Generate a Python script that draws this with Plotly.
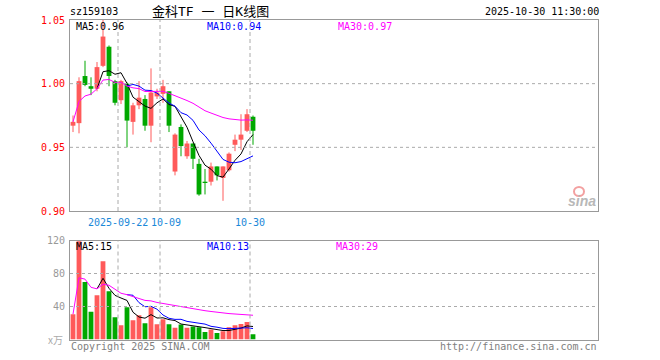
import plotly.graph_objects as go
import pandas as pd

# ---------------- data ----------------
dates = ["2025-09-10", "2025-09-11", "2025-09-12", "2025-09-15", "2025-09-16", "2025-09-17",
         "2025-09-18", "2025-09-19", "2025-09-22", "2025-09-23", "2025-09-24", "2025-09-25",
         "2025-09-26", "2025-09-29", "2025-09-30", "2025-10-09", "2025-10-10", "2025-10-13",
         "2025-10-14", "2025-10-15", "2025-10-16", "2025-10-17", "2025-10-20", "2025-10-21",
         "2025-10-22", "2025-10-23", "2025-10-24", "2025-10-27", "2025-10-28", "2025-10-29",
         "2025-10-30"]
opens = [0.967, 0.969, 1.006, 0.998, 0.996, 1.014, 1.029, 1.002, 0.987, 1.000, 0.970, 0.983,
         0.988, 0.967, 0.990, 0.992, 0.994, 0.931, 0.966, 0.943, 0.953, 0.937, 0.923, 0.923,
         0.935, 0.926, 0.932, 0.952, 0.956, 0.963, 0.974]
highs = [0.975, 1.005, 1.018, 1.005, 1.017, 1.050, 1.030, 1.003, 1.003, 1.001, 0.985, 1.002,
         0.991, 1.012, 0.996, 1.003, 0.994, 0.961, 0.968, 0.955, 0.953, 0.941, 0.933, 0.938,
         0.935, 0.935, 0.946, 0.960, 0.976, 0.980, 0.975]
lows = [0.962, 0.961, 0.998, 0.991, 0.994, 1.013, 0.998, 0.983, 0.984, 0.950, 0.960, 0.980,
        0.963, 0.954, 0.988, 0.985, 0.962, 0.928, 0.943, 0.941, 0.933, 0.912, 0.913, 0.920,
        0.924, 0.908, 0.931, 0.947, 0.948, 0.962, 0.952]
closes = [0.970, 1.002, 0.999, 0.996, 1.013, 1.037, 1.006, 0.985, 1.002, 0.971, 0.983, 0.989,
          0.967, 0.993, 0.993, 0.998, 0.967, 0.960, 0.951, 0.953, 0.941, 0.913, 0.922, 0.935,
          0.928, 0.935, 0.945, 0.956, 0.960, 0.976, 0.963]
volumes = [30.7, 119, 69.8, 33.5, 53.7, 94.9, 58.5, 27.0, 17.3, 39.1, 23.4, 29.5, 19.8, 39.1,
           18.5, 24.6, 18.5, 14.1, 18.1, 14.1, 15.7, 14.9, 9.2, 12.1, 8.0, 10.1, 14.9, 17.3,
           18.9, 21.3, 6.4]

date_ticks = ["2025-09-22", "2025-10-09", "2025-10-30"]
date_tick_text = ["2025-09-22", "10-09", "10-30"]
price_ticks = [1.05, 1.00, 0.95, 0.90]
price_tick_text = ["1.05", "1.00", "0.95", "0.90"]
vol_ticks = [120, 80, 40]
vol_tick_text = ["120", "80", "40"]

title_code = "sz159103"
title_name = "金科TF 一 日K线图"
title_time = "2025-10-30 11:30:00"
ma_price_text = ["MA5:0.96", "MA10:0.94", "MA30:0.97"]
ma_vol_text = ["MA5:15", "MA10:13", "MA30:29"]
footer_left = "Copyright 2025 SINA.COM"
footer_right = "http://finance.sina.com.cn"
vol_unit = "x万"

# ---------------- style ----------------
W, H = 660, 360
LEFT, RIGHT = 70, 598
P_TOP, P_BOT = 20, 211
V_TOP, V_BOT = 240.5, 339.5
N_SLOTS = 88
RED = "#ff5a5a"
GREEN = "#00a800"
MA_COLORS = ["#000000", "#0000ff", "#ff00ff"]
MONO = "DejaVu Sans Mono"
BORDER = "#999999"
DATE_SHIFTS = [0, 6, 0]


def px(x):
    return x / W


def py(y):
    return 1 - y / H


df = pd.DataFrame({"date": dates, "open": opens, "high": highs, "low": lows,
                   "close": closes, "vol": volumes})
df["i"] = range(len(df))
df["up"] = df["close"] >= df["open"]
df["base"] = df[["open", "close"]].min(axis=1)
df["body"] = (df["close"] - df["open"]).abs().clip(lower=0.0007)

ma_specs = [(5, 5), (10, 10), (30, 1)]
for n, mp in ma_specs:
    df[f"ma{n}"] = df["close"].rolling(n, min_periods=mp).mean()
    df[f"vma{n}"] = df["vol"].rolling(n, min_periods=mp).mean()

fig = go.Figure()

# wicks + bodies
for up, col in [(True, RED), (False, GREEN)]:
    sub = df[df["up"] == up]
    wx, wy = [], []
    for _, r in sub.iterrows():
        wx += [r["i"], r["i"], None]
        wy += [r["low"], r["high"], None]
    fig.add_trace(go.Scatter(x=wx, y=wy, mode="lines", line=dict(color=col, width=1),
                             xaxis="x", yaxis="y", hoverinfo="skip", showlegend=False))
    fig.add_trace(go.Bar(x=sub["i"], y=sub["body"], base=sub["base"], width=0.8,
                         marker=dict(color=col, line=dict(width=0)),
                         xaxis="x", yaxis="y", showlegend=False))
    fig.add_trace(go.Bar(x=sub["i"], y=sub["vol"], width=0.8,
                         marker=dict(color=col, line=dict(width=0)),
                         xaxis="x2", yaxis="y2", showlegend=False))

# moving averages
for (n, _), col in zip(ma_specs, MA_COLORS):
    fig.add_trace(go.Scatter(x=df["i"], y=df[f"ma{n}"], mode="lines",
                             line=dict(color=col, width=1), xaxis="x", yaxis="y",
                             showlegend=False))
    fig.add_trace(go.Scatter(x=df["i"], y=df[f"vma{n}"], mode="lines",
                             line=dict(color=col, width=1), xaxis="x2", yaxis="y2",
                             showlegend=False))

shapes = []
# dotted horizontal gridlines
for v in [1.00, 0.95]:
    shapes.append(dict(type="line", xref="paper", yref="y", x0=px(LEFT), x1=px(RIGHT),
                       y0=v, y1=v, line=dict(color="#aaaaaa", width=1, dash="dot")))
for v in [80, 40]:
    shapes.append(dict(type="line", xref="paper", yref="y2", x0=px(LEFT), x1=px(RIGHT),
                       y0=v, y1=v, line=dict(color="#aaaaaa", width=1, dash="dot")))
# dashed verticals at date ticks (left edge of day slot)
for d in date_ticks:
    idx = dates.index(d) - 0.5
    for (t, b) in [(P_TOP, P_BOT), (V_TOP, V_BOT)]:
        shapes.append(dict(type="line", xref="x", yref="paper", x0=idx, x1=idx,
                           y0=py(b), y1=py(t),
                           line=dict(color="#aaaaaa", width=1, dash="4px,3px")))
# sina logo eye
shapes.append(dict(type="circle", xref="paper", yref="paper", x0=px(574), x1=px(584),
                   y0=py(196), y1=py(187), line=dict(color="#f3a0a0", width=2)))

ann = []


def add_text(text, x, y, color, size=10, xanchor="left", xref="paper", yref="paper",
             family=MONO, xshift=0):
    ann.append(dict(text=text, x=x, y=y, xref=xref, yref=yref, xanchor=xanchor,
                    yanchor="middle", showarrow=False, xshift=xshift,
                    font=dict(family=family, size=size, color=color)))


add_text(title_code, px(68), py(12), "#000000", size=10)
add_text(title_name, px(150), py(12), "#000000", size=13,
         family="DejaVu Sans Mono, Noto Sans CJK SC")
add_text(title_time, px(601), py(12), "#000000", size=10, xanchor="right")

for v, t in zip(price_ticks, price_tick_text):
    add_text(t, px(67), v, "#ff0000", xanchor="right", yref="y")
for v, t in zip(vol_ticks, vol_tick_text):
    add_text(t, px(67), v, "#999999", xanchor="right", yref="y2")
add_text(vol_unit, px(65), py(339), "#aaaaaa", size=10, xanchor="right",
         family="Noto Sans CJK SC")

for d, t, s in zip(date_ticks, date_tick_text, DATE_SHIFTS):
    add_text(t, dates.index(d) - 0.5, py(222), "#1a88d8", xanchor="center", xref="x",
             xshift=s)

for t, x, col in zip(ma_price_text, [74, 205, 336], MA_COLORS):
    add_text(t, px(x), py(27), col)
for t, x, col in zip(ma_vol_text, [74, 205, 334], MA_COLORS):
    add_text(t, px(x), py(246), col)

add_text(footer_left, px(69), py(346), "#808080")
add_text(footer_right, px(599), py(346), "#808080", xanchor="right")
add_text("<b><i>sina</i></b>", px(598), py(201), "#b8b8b8", size=14, xanchor="right",
         family="Liberation Sans")

axis_common = dict(showgrid=False, zeroline=False, showticklabels=False, ticks="",
                   showline=True, mirror=True, linecolor=BORDER, linewidth=1)

fig.update_layout(
    width=W, height=H, margin=dict(l=0, r=0, t=0, b=0),
    paper_bgcolor="white", plot_bgcolor="white",
    barmode="overlay", showlegend=False, hovermode=False,
    xaxis=dict(domain=[px(LEFT), px(RIGHT)], range=[-0.5, N_SLOTS - 0.5], anchor="y",
               **axis_common),
    yaxis=dict(domain=[py(P_BOT), py(P_TOP)], range=[0.90, 1.05], anchor="x",
               **axis_common),
    xaxis2=dict(domain=[px(LEFT), px(RIGHT)], range=[-0.5, N_SLOTS - 0.5], anchor="y2",
                **axis_common),
    yaxis2=dict(domain=[py(V_BOT), py(V_TOP)], range=[0, 120], anchor="x2",
                **axis_common),
    shapes=shapes, annotations=ann,
)

fig.write_html("out.html", config={"displayModeBar": False, "staticPlot": True},
               post_script="document.body.style.margin='0';")
